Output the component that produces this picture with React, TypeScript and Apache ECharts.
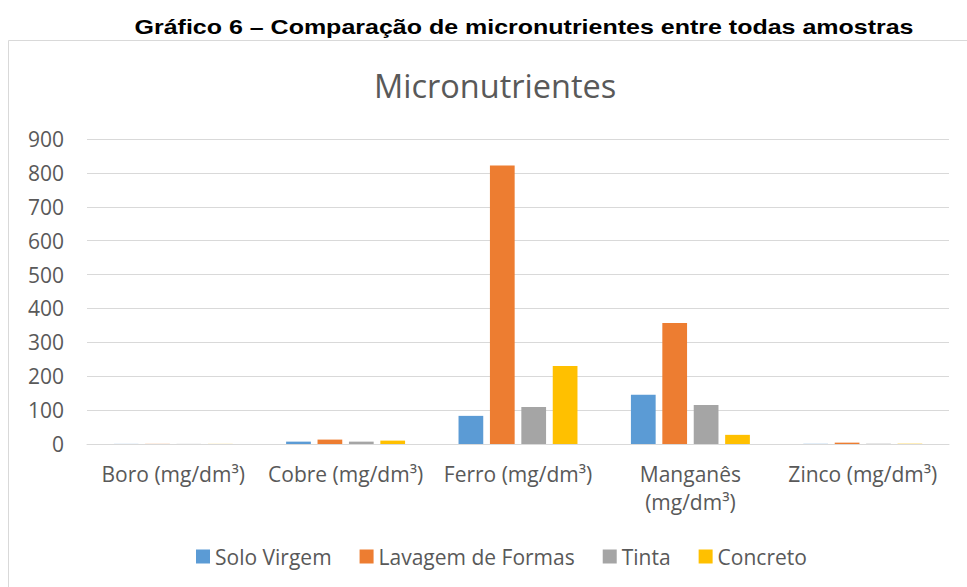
import React, { useEffect, useRef } from "react";
import * as echarts from "echarts";

const categories = ["Boro (mg/dm³)", "Cobre (mg/dm³)", "Ferro (mg/dm³)", "Manganês\n(mg/dm³)", "Zinco (mg/dm³)"];
const soloVirgem = [0.3, 7, 83, 145, 0.5];
const lavagemFormas = [0.4, 13, 822, 357, 4];
const tinta = [0.3, 7, 109, 115, 0.8];
const concreto = [0.3, 10, 230, 27, 0.8];
const yTicks = [0, 100, 200, 300, 400, 500, 600, 700, 800, 900];

const FONT = "'Open Sans', 'Noto Sans', sans-serif";
const GRAY = "#595959";

export default function App() {
  const ref = useRef<HTMLDivElement>(null);
  useEffect(() => {
    const chart = echarts.init(ref.current!, null, { renderer: "svg" });
    const mk = (name: string, data: number[], color: string) => ({
      name,
      type: "bar",
      data,
      barGap: "27%",
      barCategoryGap: "31%",
      itemStyle: { color },
    });
    chart.setOption({
      animation: false,
      backgroundColor: "#ffffff",
      graphic: [
        {
          type: "rect",
          shape: { x: 8.5, y: 40.5, width: 980, height: 560 },
          style: { fill: "none", stroke: "#d9d9d9", lineWidth: 1 },
          silent: true,
        },
        {
          type: "text",
          x: 524,
          y: 27,
          scaleX: 1.19,
          style: {
            text: "Gráfico 6 – Comparação de micronutrientes entre todas amostras",
            font: "bold 21px 'Liberation Sans', Arial, sans-serif",
            fill: "#000000",
            align: "center",
            verticalAlign: "middle",
          },
        },
      ],
      title: {
        text: "Micronutrientes",
        left: 369,
        top: 64,
        textStyle: { fontFamily: FONT, fontSize: 32.5, fontWeight: "normal", color: GRAY },
      },
      legend: {
        top: 541,
        left: 191,
        itemWidth: 14,
        itemHeight: 14,
        itemGap: 28,
        icon: "rect",
        textStyle: { fontFamily: FONT, fontSize: 21, color: GRAY },
        data: ["Solo Virgem", "Lavagem de Formas", "Tinta", "Concreto"],
      },
      grid: { left: 87, right: 18, top: 139, bottom: 143, containLabel: false },
      xAxis: {
        type: "category",
        data: categories,
        axisLine: { lineStyle: { color: "#d9d9d9", width: 1 } },
        axisTick: { show: false },
        axisLabel: { fontFamily: FONT, fontSize: 21, color: GRAY, margin: 16, lineHeight: 28, interval: 0 },
      },
      yAxis: {
        type: "value",
        min: 0,
        max: 900,
        interval: 100,
        axisLine: { show: false },
        axisTick: { show: false },
        splitLine: { lineStyle: { color: "#d9d9d9", width: 1 } },
        axisLabel: {
          fontFamily: FONT,
          fontSize: 21,
          color: GRAY,
          margin: 23,
          formatter: (v: number) => (yTicks.includes(v) ? String(v) : ""),
        },
      },
      series: [
        mk("Solo Virgem", soloVirgem, "#5b9bd5"),
        mk("Lavagem de Formas", lavagemFormas, "#ed7d31"),
        mk("Tinta", tinta, "#a5a5a5"),
        mk("Concreto", concreto, "#ffc000"),
      ],
    });
    return () => chart.dispose();
  }, []);
  return <div ref={ref} style={{ position: "absolute", left: 0, top: 0, width: 967, height: 587 }} />;
}
